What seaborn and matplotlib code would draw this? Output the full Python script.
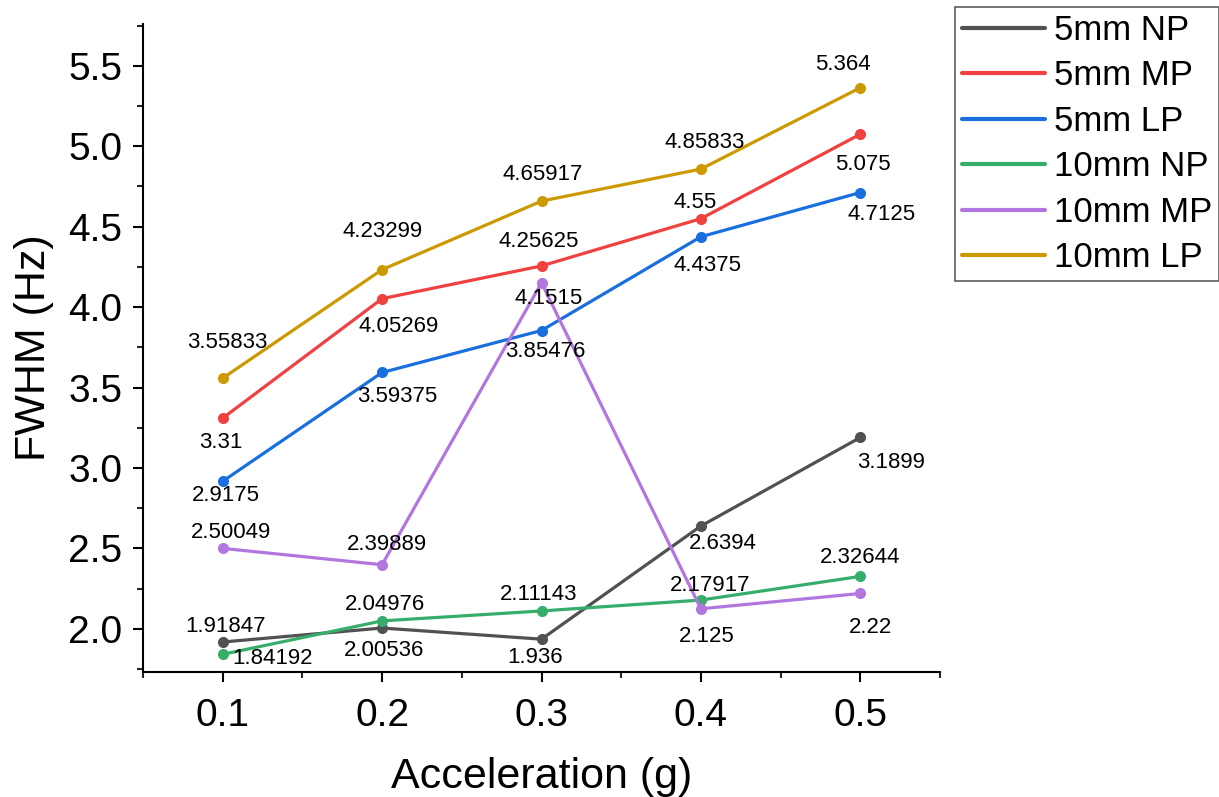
import numpy as np
import pandas as pd
import matplotlib
matplotlib.use("Agg")
import matplotlib.pyplot as plt
from matplotlib.lines import Line2D
from matplotlib.ticker import MultipleLocator
import seaborn as sns

# ---- data ----
acceleration = [0.1, 0.2, 0.3, 0.4, 0.5]
series_names = ["5mm NP", "5mm MP", "5mm LP", "10mm NP", "10mm MP", "10mm LP"]
np5 = [1.91847, 2.00536, 1.936, 2.6394, 3.1899]
mp5 = [3.31, 4.05269, 4.25625, 4.55, 5.075]
lp5 = [2.9175, 3.59375, 3.85476, 4.4375, 4.7125]
np10 = [1.84192, 2.04976, 2.11143, 2.17917, 2.32644]
mp10 = [2.50049, 2.39889, 4.1515, 2.125, 2.22]
lp10 = [3.55833, 4.23299, 4.65917, 4.85833, 5.364]
label_texts = {
    "5mm NP": ["1.91847", "2.00536", "1.936", "2.6394", "3.1899"],
    "5mm MP": ["3.31", "4.05269", "4.25625", "4.55", "5.075"],
    "5mm LP": ["2.9175", "3.59375", "3.85476", "4.4375", "4.7125"],
    "10mm NP": ["1.84192", "2.04976", "2.11143", "2.17917", "2.32644"],
    "10mm MP": ["2.50049", "2.39889", "4.1515", "2.125", "2.22"],
    "10mm LP": ["3.55833", "4.23299", "4.65917", "4.85833", "5.364"],
}

# ---- style ----
colors = ["#515151", "#F14040", "#1A6FDF", "#37AD6B", "#B177DE", "#CC9900"]
# label offsets in pixels (dx, dy; dy positive = up)
label_offsets = {
    "5mm NP": [(3, 16), (2, -22), (-6, -18), (22, -17), (31, -25)],
    "5mm MP": [(-2, -24), (17, -28), (-3, 24), (-6, 16), (3, -30)],
    "5mm LP": [(3, -14), (15, -24), (4, -21), (7, -29), (21, -22)],
    "10mm NP": [(50, -4), (3, 16), (-3, 16), (9, 15), (0, 19)],
    "10mm MP": [(8, 16), (5, 20), (7, -16), (6, -28), (10, -34)],
    "10mm LP": [(5, 36), (0, 38), (1, 27), (4, 27), (-17, 23)],
}

all_vals = [np5, mp5, lp5, np10, mp10, lp10]
rows = []
for name, vals in zip(series_names, all_vals):
    for a, v in zip(acceleration, vals):
        rows.append({"Acceleration": a, "FWHM": v, "Series": name})
df = pd.DataFrame(rows)

sns.set_style("ticks")
plt.rcParams["font.family"] = ["Liberation Sans", "DejaVu Sans"]
plt.rcParams["text.color"] = "black"
plt.rcParams["axes.labelcolor"] = "black"

fig = plt.figure(figsize=(12.19, 7.97), dpi=100)
ax = fig.add_axes([143 / 1219, 1 - 672 / 797, (940 - 143) / 1219, (672 - 24) / 797])

sns.lineplot(data=df, x="Acceleration", y="FWHM", hue="Series",
             hue_order=series_names, palette=colors, marker="o",
             markersize=8, markeredgewidth=0, linewidth=2.3, ax=ax,
             legend=False, errorbar=None)

for name, col, vals in zip(series_names, colors, all_vals):
    for a, v, t, off in zip(acceleration, vals, label_texts[name], label_offsets[name]):
        ax.annotate(t, (a, v), xytext=off, textcoords="offset pixels",
                    ha="center", va="center", fontsize=16, color="black")

ax.set_xlim(0.05, 0.55)
ax.set_ylim(1.732, 5.76)
ax.xaxis.set_minor_locator(MultipleLocator(0.05))
ax.yaxis.set_minor_locator(MultipleLocator(0.25))
ax.set_xticks([0.1, 0.2, 0.3, 0.4, 0.5])
ax.set_xticklabels(["0.1", "0.2", "0.3", "0.4", "0.5"])
ax.set_yticks([2.0, 2.5, 3.0, 3.5, 4.0, 4.5, 5.0, 5.5])
ax.set_yticklabels(["2.0", "2.5", "3.0", "3.5", "4.0", "4.5", "5.0", "5.5"])
ax.tick_params(axis="both", which="major", direction="out", length=7, width=1.5,
               labelsize=28, colors="black")
ax.tick_params(axis="x", which="major", pad=12)
ax.tick_params(axis="y", which="major", pad=8)
ax.tick_params(axis="both", which="minor", direction="out", length=4, width=1.5)
for s in ["top", "right"]:
    ax.spines[s].set_visible(False)
for s in ["left", "bottom"]:
    ax.spines[s].set_linewidth(1.5)
    ax.spines[s].set_color("black")

ax.set_xlabel("Acceleration (g)", fontsize=31, labelpad=16, color="black")
ax.set_ylabel("FWHM (Hz)", fontsize=31, labelpad=10, color="black")

handles = [Line2D([0], [0], color=c, lw=3) for c in colors]
leg = fig.legend(handles, series_names, loc="upper left",
                 bbox_to_anchor=(955 / 1219, 1 - 7 / 797), fontsize=25,
                 frameon=True, fancybox=False, handlelength=2.4,
                 handletextpad=0.25, labelspacing=0.36, borderpad=0.2,
                 borderaxespad=0)
leg.get_frame().set_edgecolor("#333333")
leg.get_frame().set_linewidth(1.2)

fig.savefig("out.png", dpi=100)
